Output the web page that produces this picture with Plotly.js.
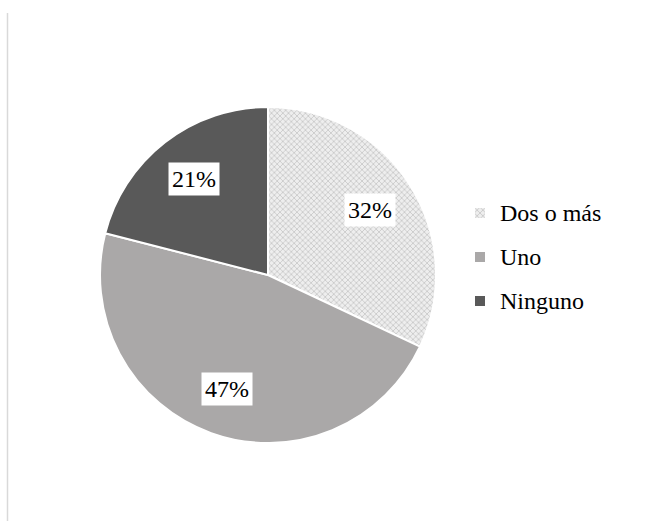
<!DOCTYPE html>
<html>
<head>
<meta charset="utf-8">
<script src="https://cdn.plot.ly/plotly-3.0.1.min.js"></script>
<style>html,body{margin:0;padding:0;background:#fff;}#chart{width:646px;height:521px;}</style>
</head>
<body>
<div id="chart"></div>
<script>
const categories = ['Dos o más', 'Uno', 'Ninguno'];
const values = [32, 47, 21];
const percentLabels = ['32%', '47%', '21%'];

const W = 646, H = 521;
const domainX = [100 / W, 436 / W];
const domainY = [78 / H, 414 / H];
const FONT = 'Liberation Serif';

// legend labels padded with blank lines so entries are spaced like the original
const legendLabels = categories.map(c => ' <br> <br><span style="font-size:24px">' + c + '</span><br> ');

const total = values.reduce((a, b) => a + b, 0);
const cxP = (domainX[0] + domainX[1]) / 2, cyP = (domainY[0] + domainY[1]) / 2;
const rxP = (domainX[1] - domainX[0]) / 2, ryP = (domainY[1] - domainY[0]) / 2;
let cum = 0;
const annotations = values.map((v, i) => {
  const mid = (cum + v / 2) / total * 2 * Math.PI;
  cum += v;
  const f = 0.72;
  return {
    xref: 'paper', yref: 'paper',
    x: cxP + f * rxP * Math.sin(mid),
    y: cyP + f * ryP * Math.cos(mid),
    xanchor: 'center', yanchor: 'middle',
    text: percentLabels[i], showarrow: false,
    bgcolor: '#ffffff', borderpad: 3,
    font: {family: FONT, size: 24, color: '#000000'}
  };
});

const trace = {
  type: 'pie',
  labels: legendLabels,
  values: values,
  sort: false,
  direction: 'clockwise',
  rotation: 0,
  textinfo: 'none',
  hoverinfo: 'none',
  domain: {x: domainX, y: domainY},
  marker: {
    colors: ['#e4e4e4', '#aaa8a8', '#595959'],
    line: {color: '#ffffff', width: 2},
    pattern: {
      shape: ['x', '', ''],
      fgcolor: '#c4c4c4',
      bgcolor: '#eeeeee',
      size: 4,
      solidity: 0.35
    }
  }
};

const layout = {
  width: W, height: H,
  margin: {l: 0, r: 0, t: 0, b: 0},
  paper_bgcolor: '#ffffff',
  font: {family: FONT},
  showlegend: true,
  legend: {
    x: 460 / W, xanchor: 'left',
    y: (H - 257) / H, yanchor: 'middle',
    font: {family: FONT, size: 7.88, color: '#000000'},
    bgcolor: 'rgba(0,0,0,0)'
  },
  annotations: annotations,
  shapes: [{
    type: 'line', xref: 'paper', yref: 'paper',
    x0: 7.5 / W, x1: 7.5 / W, y0: 1 - 13 / H, y1: 0,
    line: {color: '#d9d9d9', width: 1.5}
  }]
};

Plotly.newPlot('chart', [trace], layout, {displayModeBar: false, staticPlot: true});
</script>
</body>
</html>
